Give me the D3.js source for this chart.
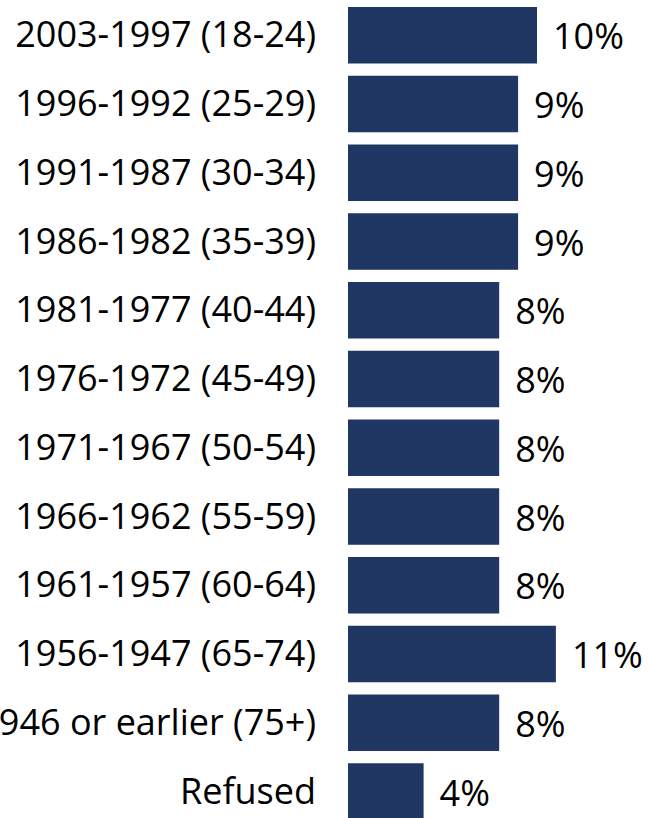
<!DOCTYPE html>
<html>
<head>
<meta charset="utf-8">
<script src="https://cdn.jsdelivr.net/npm/d3@7"></script>
<style>
  html, body { margin: 0; padding: 0; background: #ffffff; }
  svg { display: block; }
  text { font-family: "Open Sans", "Noto Sans", sans-serif; fill: #000; }
</style>
</head>
<body>
<svg id="chart" width="648" height="818"></svg>
<script>
const categories = [
  "2003-1997 (18-24)",
  "1996-1992 (25-29)",
  "1991-1987 (30-34)",
  "1986-1982 (35-39)",
  "1981-1977 (40-44)",
  "1976-1972 (45-49)",
  "1971-1967 (50-54)",
  "1966-1962 (55-59)",
  "1961-1957 (60-64)",
  "1956-1947 (65-74)",
  "1946 or earlier (75+)",
  "Refused"
];
const values = [10, 9, 9, 9, 8, 8, 8, 8, 8, 11, 8, 4];
const valueLabels = ["10%", "9%", "9%", "9%", "8%", "8%", "8%", "8%", "8%", "11%", "8%", "4%"];

const svg = d3.select("#chart");
const barColor = "#1f3762";
const fontSize = 36;

const pi = 0.178;
const step = 68.75;
const y = d3.scaleBand()
  .domain(categories)
  .range([7 - pi * step / 2, 7 - pi * step / 2 + step * categories.length])
  .paddingInner(pi)
  .paddingOuter(pi / 2);

const x = d3.scaleLinear().domain([0, 15]).range([348, 348 + 18.9 * 15]);

const data = categories.map((c, i) => ({ c, v: values[i], label: valueLabels[i] }));

svg.append("g").selectAll("rect").data(data).join("rect")
  .attr("x", x(0))
  .attr("y", d => y(d.c))
  .attr("width", d => x(d.v) - x(0))
  .attr("height", y.bandwidth())
  .attr("fill", barColor);

svg.append("g").selectAll("text").data(data).join("text")
  .attr("x", 316)
  .attr("y", d => y(d.c) + y.bandwidth() / 2 + 12)
  .attr("text-anchor", "end")
  .style("font-size", fontSize + "px")
  .text(d => d.c);

svg.append("g").selectAll("text").data(data).join("text")
  .attr("x", d => x(d.v) + 16)
  .attr("y", d => y(d.c) + y.bandwidth() / 2 + 14)
  .attr("text-anchor", "start")
  .style("font-size", fontSize + "px")
  .text(d => d.label);
</script>
</body>
</html>
